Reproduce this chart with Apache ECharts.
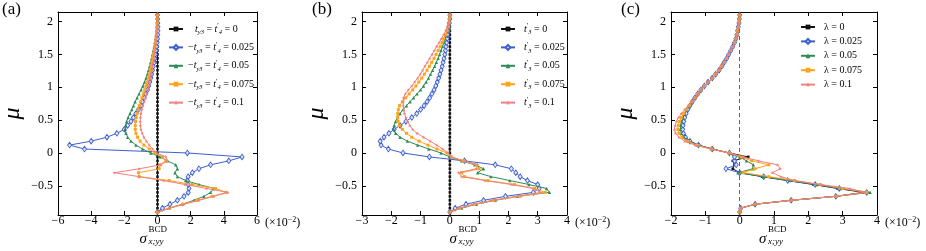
<!DOCTYPE html>
<html><head><meta charset="utf-8">
<script src="https://cdn.jsdelivr.net/npm/echarts@6/dist/echarts.min.js"></script>
<style>html,body{margin:0;padding:0;background:#fff}#c{width:926px;height:251px}</style>
</head><body><div id="c"></div><script>
// mu grid (y values), shared by every curve
const mu = [-0.90,-0.84,-0.78,-0.72,-0.66,-0.60,-0.54,-0.48,-0.42,-0.36,
 -0.30,-0.24,-0.18,-0.12,-0.06,0.00,0.06,0.12,0.18,0.24,
 0.30,0.36,0.42,0.48,0.54,0.60,0.66,0.72,0.78,0.84,
 0.90,0.96,1.02,1.08,1.14,1.20,1.26,1.32,1.38,1.44,
 1.50,1.56,1.62,1.68,1.74,1.80,1.86,1.92,1.98,2.04,2.10];

// panel (a)
const a0 = [0,0,0,0,0,0,0,0,0,0, 0,0,0,0,0,0,0,0,0,0, 0,0,0,0,0,0,0,0,0,0, 0,0,0,0,0,0,0,0,0,0, 0,0,0,0,0,0,0,0,0,0, 0];
const a1 = [0,0.3,0.75,1.2,1.6,1.85,1.9,1.85,1.8,1.85,
 2.1,2.5,3.2,4.3,5.1,1.8,-4.4,-5.3,-4.0,-3.05,
 -2.45,-2.0,-1.8,-1.6,-1.45,-1.3,-1.15,-1.0,-0.9,-0.8,
 -0.7,-0.6,-0.53,-0.46,-0.4,-0.35,-0.3,-0.25,-0.2,-0.16,
 -0.12,-0.08,-0.05,-0.02,0,0.02,0.03,0.03,0.02,0.01, 0];
const a2 = [0,0.7,1.5,2.2,2.8,3.2,3.4,2.5,1.7,1.2,
 1.05,1.2,1.1,0.6,0.15,-0.4,-0.9,-1.3,-1.6,-1.8,
 -1.9,-1.95,-1.92,-1.86,-1.77,-1.66,-1.55,-1.45,-1.35,-1.23,
 -1.11,-0.99,-0.88,-0.78,-0.69,-0.61,-0.54,-0.47,-0.41,-0.35,
 -0.3,-0.25,-0.2,-0.16,-0.12,-0.09,-0.06,-0.04,-0.02,-0.01, 0];
const a3 = [0,0.7,1.5,2.4,3.3,4.15,3.5,2.1,0.7,-1.1,
 -1.15,0.1,0.15,0.5,0.3,-0.15,-0.5,-0.82,-1.05,-1.2,
 -1.3,-1.34,-1.34,-1.32,-1.28,-1.23,-1.17,-1.1,-1.02,-0.94,
 -0.86,-0.78,-0.7,-0.63,-0.56,-0.5,-0.44,-0.39,-0.34,-0.29,
 -0.25,-0.21,-0.17,-0.13,-0.1,-0.07,-0.05,-0.03,-0.02,-0.01, 0];
const a4 = [0,0.75,1.6,2.5,3.4,4.24,2.95,1.66,0.37,-1.13,
 -2.6,-1.1,0.2,0.6,0.5,-0.05,-0.3,-0.5,-0.67,-0.82,
 -0.92,-1.0,-1.03,-1.04,-1.03,-1.0,-0.95,-0.88,-0.8,-0.72,
 -0.65,-0.58,-0.52,-0.47,-0.42,-0.37,-0.33,-0.29,-0.25,-0.21,
 -0.18,-0.15,-0.12,-0.09,-0.07,-0.05,-0.03,-0.02,-0.01,0, 0];

// panel (b)
const b0 = [0,0,0,0,0,0,0,0,0,0, 0,0,0,0,0,0,0,0,0,0, 0,0,0,0,0,0,0,0,0,0, 0,0,0,0,0,0,0,0,0,0, 0,0,0,0,0,0,0,0,0,0, 0];
const b1 = [0,0.18,0.55,1.15,1.9,2.85,3.05,3.0,2.65,2.4,
 2.25,2.1,1.55,0.5,-0.7,-1.6,-2.1,-2.35,-2.38,-2.25,
 -2.08,-1.9,-1.7,-1.5,-1.3,-1.13,-1.0,-0.88,-0.78,-0.69,
 -0.61,-0.54,-0.48,-0.43,-0.38,-0.34,-0.3,-0.26,-0.23,-0.2,
 -0.17,-0.15,-0.13,-0.11,-0.09,-0.08,-0.06,-0.04,-0.02,0, 0];
const b2 = [0,0.4,0.9,1.55,2.3,3.4,3.3,2.7,2.05,1.4,
 0.95,1.15,0.85,0.4,0.0,-0.3,-0.72,-1.1,-1.45,-1.7,
 -1.85,-1.92,-1.9,-1.85,-1.78,-1.7,-1.6,-1.48,-1.36,-1.24,
 -1.12,-1.0,-0.9,-0.81,-0.73,-0.66,-0.59,-0.52,-0.46,-0.4,
 -0.35,-0.3,-0.25,-0.2,-0.16,-0.12,-0.08,-0.05,-0.03,-0.01, 0];
const b3 = [0,0.35,0.85,1.5,2.4,3.25,2.9,2.2,1.3,0.5,
 0.4,1.0,0.9,0.45,0.05,-0.1,-0.44,-0.75,-1.05,-1.3,
 -1.48,-1.62,-1.72,-1.77,-1.79,-1.78,-1.76,-1.72,-1.62,-1.5,
 -1.39,-1.27,-1.16,-1.06,-0.96,-0.87,-0.78,-0.7,-0.62,-0.54,
 -0.47,-0.4,-0.33,-0.27,-0.21,-0.15,-0.1,-0.06,-0.03,-0.01, 0];
const b4 = [0,0.3,0.8,1.45,2.3,3.1,2.85,2.1,1.2,0.4,
 0.3,0.9,0.95,0.5,0.05,-0.05,-0.25,-0.45,-0.67,-0.9,
 -1.12,-1.27,-1.37,-1.44,-1.5,-1.55,-1.57,-1.59,-1.59,-1.58,
 -1.52,-1.42,-1.3,-1.2,-1.1,-1.01,-0.93,-0.85,-0.77,-0.69,
 -0.61,-0.53,-0.45,-0.37,-0.29,-0.21,-0.14,-0.08,-0.04,-0.01, 0];

// panel (c)
const c0 = [0,0.03,0.45,1.5,2.8,3.6,2.85,2.15,1.4,0.65,
 0.0,-0.2,-0.15,-0.2,0.25,-0.3,-0.8,-1.2,-1.45,-1.58,
 -1.64,-1.66,-1.65,-1.63,-1.6,-1.56,-1.51,-1.45,-1.38,-1.3,
 -1.22,-1.13,-1.03,-0.92,-0.8,-0.7,-0.6,-0.52,-0.45,-0.38,
 -0.32,-0.26,-0.2,-0.15,-0.11,-0.08,-0.06,-0.04,-0.02,-0.01, 0];
const c1 = [0,0.03,0.45,1.5,2.8,3.7,2.9,2.2,1.4,0.7,
 0.0,-0.4,-0.1,-0.15,-0.15,-0.3,-0.8,-1.2,-1.45,-1.58,
 -1.64,-1.66,-1.65,-1.63,-1.6,-1.56,-1.51,-1.45,-1.38,-1.3,
 -1.22,-1.13,-1.03,-0.92,-0.8,-0.7,-0.6,-0.52,-0.45,-0.38,
 -0.32,-0.26,-0.2,-0.15,-0.11,-0.08,-0.06,-0.04,-0.02,-0.01, 0];
const c2 = [0,0.03,0.45,1.5,2.8,3.8,2.95,2.25,1.45,0.7,
 -0.05,0.38,0.4,0.2,0.0,-0.3,-0.8,-1.22,-1.48,-1.62,
 -1.7,-1.73,-1.72,-1.69,-1.65,-1.6,-1.53,-1.46,-1.39,-1.3,
 -1.22,-1.13,-1.03,-0.92,-0.8,-0.7,-0.6,-0.52,-0.45,-0.38,
 -0.32,-0.26,-0.2,-0.15,-0.11,-0.08,-0.06,-0.04,-0.02,-0.01, 0];
const c3 = [0,0.03,0.45,1.5,2.8,3.7,3.0,2.35,1.6,0.85,
 0.1,0.45,0.85,0.35,0.05,-0.3,-0.82,-1.25,-1.52,-1.68,
 -1.77,-1.8,-1.79,-1.75,-1.7,-1.63,-1.55,-1.47,-1.39,-1.3,
 -1.22,-1.13,-1.03,-0.92,-0.8,-0.7,-0.6,-0.52,-0.45,-0.38,
 -0.32,-0.26,-0.2,-0.15,-0.11,-0.08,-0.06,-0.04,-0.02,-0.01, 0];
const c4 = [0,0.03,0.45,1.5,2.8,3.65,3.2,2.35,1.6,1.2,
 0.95,1.18,1.1,0.55,0.1,-0.3,-0.85,-1.3,-1.6,-1.77,
 -1.87,-1.9,-1.88,-1.84,-1.78,-1.7,-1.6,-1.5,-1.4,-1.3,
 -1.22,-1.13,-1.03,-0.92,-0.8,-0.7,-0.6,-0.52,-0.45,-0.38,
 -0.32,-0.26,-0.2,-0.15,-0.11,-0.08,-0.06,-0.04,-0.02,-0.01, 0];

// axis ticks
const xTicksA = {min:-6, max:6, interval:2};
const xTicksB = {min:-3, max:4, interval:1};
const xTicksC = {min:-2, max:4, interval:1};
const yTickVals = [-0.5, 0, 0.5, 1, 1.5, 2];
const yRange = {min:-0.944, max:2.146};

// legend labels (rich text)
const legendA = ['{g|}{i|t}{s|y3}{n| = }{i|t}{p|′}{s|4}{n| = 0}',
 '{n|−}{i|t}{s|y3}{n| = }{i|t}{p|′}{s|4}{n| = 0.025}',
 '{n|−}{i|t}{s|y3}{n| = }{i|t}{p|′}{s|4}{n| = 0.05}',
 '{n|−}{i|t}{s|y3}{n| = }{i|t}{p|′}{s|4}{n| = 0.075}',
 '{n|−}{i|t}{s|y3}{n| = }{i|t}{p|′}{s|4}{n| = 0.1}'];
const legendB = ['{h|}{i|t}{p|′}{s|3}{n| = 0}','{h|}{i|t}{p|′}{s|3}{n| = 0.025}','{h|}{i|t}{p|′}{s|3}{n| = 0.05}','{h|}{i|t}{p|′}{s|3}{n| = 0.075}','{h|}{i|t}{p|′}{s|3}{n| = 0.1}'];
const legendC = ['{h|}{n|λ = 0}','{h|}{n|λ = 0.025}','{h|}{n|λ = 0.05}','{h|}{n|λ = 0.075}','{h|}{n|λ = 0.1}'];

const SERIF = 'Liberation Serif';
const colors = ['#111111','#3d5fd0','#2e8b57','#ffa31a','#f28080'];
const star = 'path://M0,-10L2.35,-3.24L9.51,-3.09L3.8,1.24L5.88,8.09L0,4L-5.88,8.09L-3.8,1.24L-9.51,-3.09L-2.35,-3.24Z';
const styles = [
  {symbol:'rect', symbolSize:2.6, itemStyle:{color:colors[0]}},
  {symbol:'diamond', symbolSize:[4,5.5], itemStyle:{color:'#dfe6fb', borderColor:colors[1], borderWidth:0.9}},
  {symbol:'triangle', symbolSize:3.4, itemStyle:{color:colors[2]}},
  {symbol:'rect', symbolSize:3, itemStyle:{color:colors[3]}},
  {symbol:star, symbolSize:3.6, itemStyle:{color:colors[4]}}
];

const grids = [
  {left:52, top:12, width:205, height:203},
  {left:362, top:12, width:205, height:203},
  {left:671, top:12, width:206, height:203}
];
const xt = [xTicksA, xTicksB, xTicksC];
const fmt = v => String(v).replace('-', '−');

const xAxis = [], yAxis = [], series = [], legend = [], graphic = [];
const panels = [[a0,a1,a2,a3,a4],[b0,b1,b2,b3,b4],[c0,c1,c2,c3,c4]];
const legTexts = [legendA, legendB, legendC];
const legLeft = [163, 495, 795];

grids.forEach((g, gi) => {
  g.show = false;
  const base = {type:'value', gridIndex:gi, min:xt[gi].min, max:xt[gi].max, interval:xt[gi].interval,
    splitLine:{show:false}, axisLine:{show:true, onZero:false, lineStyle:{color:'#000', width:1}},
    axisTick:{show:true, inside:true, length:4, lineStyle:{color:'#000'}}};
  xAxis.push(Object.assign({}, base, {position:'bottom',
    axisLabel:{show:true, formatter:fmt, color:'#000', fontFamily:SERIF, fontSize:12, margin:0}}));
  xAxis.push(Object.assign({}, base, {position:'top', axisLabel:{show:false}}));
  const ybase = {type:'value', gridIndex:gi, min:yRange.min, max:yRange.max,
    splitLine:{show:false}, axisLine:{show:true, onZero:false, lineStyle:{color:'#000', width:1}},
    axisTick:{show:true, inside:true, length:4, customValues:yTickVals, lineStyle:{color:'#000'}}};
  yAxis.push(Object.assign({}, ybase, {position:'left',
    axisLabel:{show:true, customValues:yTickVals, formatter:fmt, color:'#000', fontFamily:SERIF, fontSize:12, margin:5},
    name:'μ', nameLocation:'middle', nameRotate:90, nameGap:33,
    nameTextStyle:{fontFamily:SERIF, fontStyle:'italic', fontSize:24, color:'#000'}}));
  yAxis.push(Object.assign({}, ybase, {position:'right', axisLabel:{show:false}}));

  const names = [];
  panels[gi].forEach((xs, si) => {
    const nm = 'p' + gi + 's' + si;
    names.push(nm);
    const st = styles[si];
    const s = {name:nm, type:'line', xAxisIndex:gi*2, yAxisIndex:gi*2,
      data: mu.map((m, i) => [xs[i], m]),
      symbol: st.symbol, symbolSize: st.symbolSize, showSymbol:true,
      lineStyle:{width:1, color:colors[si]}, itemStyle: st.itemStyle,
      animation:false, z: 2 + si};
    if (gi === 2 && si === 0) {
      s.markLine = {silent:true, symbol:['none','none'], label:{show:false},
        lineStyle:{color:'#666', type:[4,3], width:1}, data:[{xAxis:0}]};
    }
    series.push(s);
  });
  const lt = legTexts[gi];
  legend.push({orient:'vertical', left:legLeft[gi], top:17, itemWidth:14, itemHeight:6, itemGap:4.4,
    selectedMode:false, data:names, formatter: n => lt[names.indexOf(n)],
    textStyle:{color:'#000', fontFamily:SERIF, fontSize:10, rich:{
      n:{fontFamily:SERIF, fontSize:10, lineHeight:14, color:'#000'},
      i:{fontFamily:SERIF, fontStyle:'italic', fontSize:10, lineHeight:14, color:'#000'},
      s:{fontFamily:SERIF, fontStyle:'italic', fontSize:6.5, lineHeight:7, verticalAlign:'bottom', color:'#000'},
      p:{fontFamily:SERIF, fontSize:7, lineHeight:7, verticalAlign:'top', color:'#000'},
      g:{width:7, height:10},
      h:{width:4, height:10}
    }}});

  const cx = g.left + g.width / 2;
  graphic.push({type:'text', left:g.left - 50, top:1, style:{text:['(a)','(b)','(c)'][gi], font:'17px ' + SERIF, fill:'#000'}});
  graphic.push({type:'text', x:cx - 15, y:239, style:{text:'σ', font:'italic 15px ' + SERIF, fill:'#000', verticalAlign:'middle'}});
  graphic.push({type:'text', x:cx - 6, y:230, style:{text:'BCD', font:'9px ' + SERIF, fill:'#000', verticalAlign:'middle'}});
  graphic.push({type:'text', x:cx - 6, y:242, style:{text:'x;yy', font:'italic 9px ' + SERIF, fill:'#000', verticalAlign:'middle'}});
  graphic.push({type:'text', x:g.left + g.width + 8, y:223, style:{
    text:'{n|(×10}{p|−2}{n|)}', verticalAlign:'middle',
    rich:{n:{fontFamily:SERIF, fontSize:12, lineHeight:15, fill:'#000'}, p:{fontFamily:SERIF, fontSize:8, lineHeight:8, verticalAlign:'top', fill:'#000'}}}});
});

const chart = echarts.init(document.getElementById('c'), null, {renderer:'canvas'});
chart.setOption({animation:false, backgroundColor:'#fff', grid:grids, xAxis, yAxis, series, legend, graphic});
</script></body></html>
